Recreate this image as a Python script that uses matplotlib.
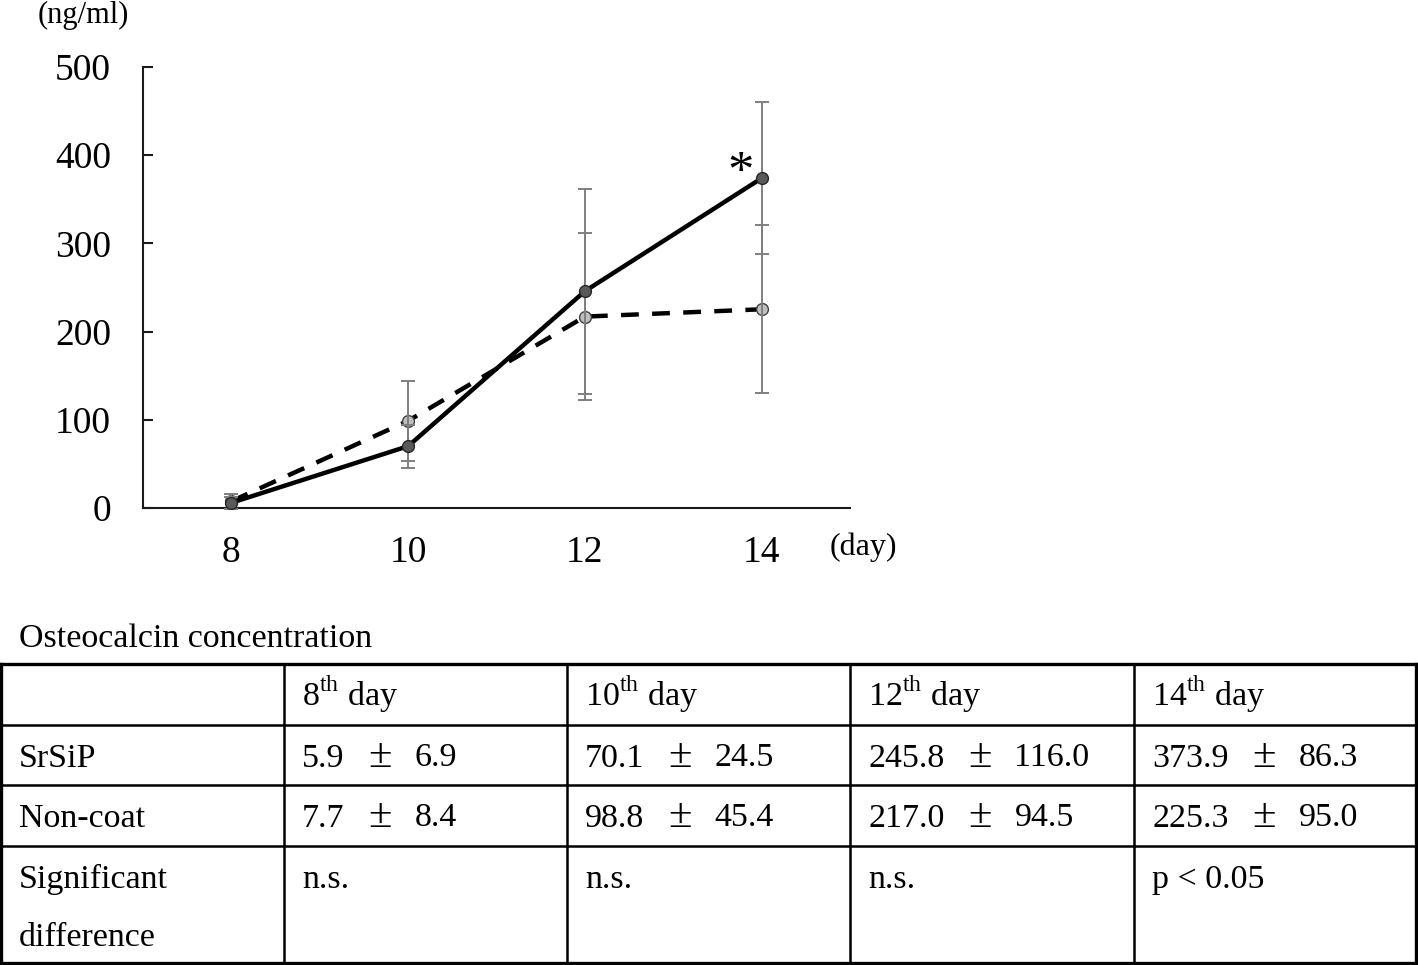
import matplotlib
matplotlib.use("Agg")
import matplotlib.pyplot as plt

plt.rcParams['font.family'] = ['Liberation Serif', 'DejaVu Serif']
plt.rcParams['mathtext.fontset'] = 'custom'
plt.rcParams['mathtext.rm'] = 'Liberation Serif'

# data (osteocalcin, ng/ml)
days = [8, 10, 12, 14]
srsip_mean = [5.9, 70.1, 245.8, 373.9]
srsip_sd = [6.9, 24.5, 116.0, 86.3]
noncoat_mean = [7.7, 98.8, 217.0, 225.3]
noncoat_sd = [8.4, 45.4, 94.5, 95.0]
significance = ["n.s.", "n.s.", "n.s.", "p < 0.05"]
row_names = ["SrSiP", "Non-coat", "Significant\ndifference"]
y_ticks = [0, 100, 200, 300, 400, 500]

W, H = 1418, 965
fig = plt.figure(figsize=(W / 100, H / 100), dpi=100)

# グラフ部分
ax = fig.add_axes([143 / W, 1 - 508 / H, 707 / W, 441 / H])
ax.set_xlim(7, 15)
ax.set_ylim(0, 500)

# non-coat (dashed)
ax.errorbar(days, noncoat_mean, yerr=noncoat_sd, fmt='none', ecolor='#7f7f7f',
            elinewidth=1.4, capsize=5, capthick=1.4, zorder=3, clip_on=False)
ax.plot(days, noncoat_mean, color='black', lw=3.2, dashes=(4, 3),
        marker='o', markersize=8.5, markerfacecolor='#bfbfbf',
        markeredgecolor='#404040', markeredgewidth=1, zorder=2, clip_on=False)

# SrSiP (solid)
ax.errorbar(days, srsip_mean, yerr=srsip_sd, fmt='none', ecolor='#7f7f7f',
            elinewidth=1.4, capsize=5, capthick=1.4, zorder=3, clip_on=False)
ax.plot(days, srsip_mean, color='black', lw=3.2, marker='o', markersize=8.5,
        markerfacecolor='#595959', markeredgecolor='#262626',
        markeredgewidth=1, zorder=4, clip_on=False)

# significance mark
ax.annotate('*', xy=(days[-1], srsip_mean[-1]), xytext=(-15, -6.5),
            textcoords='offset points', ha='center', va='baseline', fontsize=38)

for s in ['top', 'right']:
    ax.spines[s].set_visible(False)
for s in ['left', 'bottom']:
    ax.spines[s].set_linewidth(1.5)
    ax.spines[s].set_color('#1a1a1a')

ax.set_yticks(y_ticks)
ax.set_xticks(days)
ax.tick_params(axis='y', direction='in', length=7, width=1.5, color='#1a1a1a',
               pad=23, labelsize=27)
ax.tick_params(axis='x', length=0, pad=20, labelsize=27)

fig.text(38 / W, 1 - 15 / H, '(ng/ml)', ha='left', va='center', fontsize=22)
fig.text(830 / W, 1 - 547 / H, '(day)', ha='left', va='center', fontsize=23)

# 表部分
tab = fig.add_axes([0, 0, 1, 1])
tab.set_xlim(0, W)
tab.set_ylim(H, 0)
tab.axis('off')

col_bounds = [1, 284, 567, 850, 1134, 1416]
row_bounds = [664, 725, 785, 846, 963]
fs = 24.5

tab.text(19, 647, 'Osteocalcin concentration', fontsize=fs, va='baseline')

for x in col_bounds:
    lw = 2.4 if x in (col_bounds[0], col_bounds[-1]) else 1.8
    tab.plot([x, x], [row_bounds[0], row_bounds[-1]], color='black', lw=lw,
             solid_capstyle='projecting')
for y in row_bounds:
    lw = 2.4 if y in (row_bounds[0], row_bounds[-1]) else 1.8
    tab.plot([col_bounds[0], col_bounds[-1]], [y, y], color='black', lw=lw,
             solid_capstyle='projecting')

pad = 18
base = 42
line_gap = 58


def mean_sd(x, y, m, sd):
    # 平均 ± SD （±は少し大きめ）
    t1 = tab.text(x, y, f'{m:.1f}', fontsize=fs, va='baseline')
    pm = tab.annotate('\u00b1', xy=(1, 0), xycoords=t1, xytext=(17, 5.3),
                      textcoords='offset points', fontsize=31, va='baseline')
    tab.annotate(f'{sd:.1f}', xy=(1, 0), xycoords=pm, xytext=(16.5, 6.7),
                 textcoords='offset points', fontsize=fs, va='baseline')


# header
for i, d in enumerate(days):
    tab.text(col_bounds[i + 1] + pad, row_bounds[0] + base,
             f'{d}$^{{\\mathrm{{th}}}}$ day', fontsize=fs, va='baseline')

# row names
for r, name in enumerate(row_names):
    for k, line in enumerate(name.split('\n')):
        tab.text(col_bounds[0] + pad, row_bounds[r + 1] + base + k * line_gap,
                 line, fontsize=fs, va='baseline')

# values
for i in range(len(days)):
    x0 = col_bounds[i + 1] + pad
    mean_sd(x0, row_bounds[1] + base, srsip_mean[i], srsip_sd[i])
    mean_sd(x0, row_bounds[2] + base, noncoat_mean[i], noncoat_sd[i])
    tab.text(x0, row_bounds[3] + base, significance[i], fontsize=fs, va='baseline')

fig.savefig('out.png', dpi=100)
